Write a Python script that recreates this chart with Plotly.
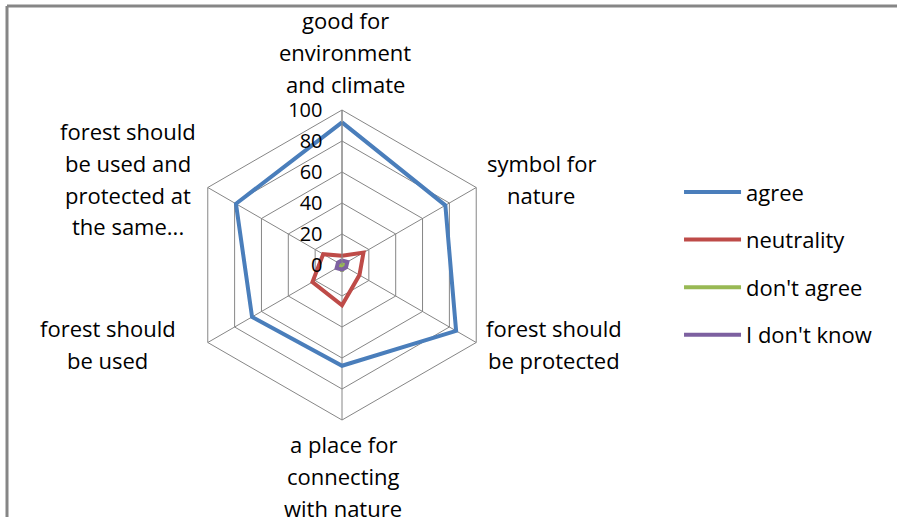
import math
import plotly.graph_objects as go

categories = [
    "good for<br>environment<br>and climate",
    "symbol for<br>nature",
    "forest should<br>be protected",
    "a place for<br>connecting<br>with nature",
    "forest should<br>be used",
    "forest should<br>be used and<br>protected at<br>the same...",
]
agree = [92, 77, 85, 65, 67, 79]
neutrality = [6, 16, 13, 26, 22, 14]
dont_agree = [1, 1, 1, 4, 1, 1]
dont_know = [3, 4, 3, 3, 4, 3]
radial_ticks = [0, 20, 40, 60, 80, 100]

series = [
    ("agree", agree, "#4A7EBB"),
    ("neutrality", neutrality, "#BE4B48"),
    ("don't agree", dont_agree, "#98B954"),
    ("I don't know", dont_know, "#7D60A0"),
]

FONT = "Open Sans"
W, H = 897, 517
cx, cy, R = 342, 265, 155          # polar centre and outer radius in px
LINE_GAP = 32                       # px between lines of a category label

# label block offsets (px) from each outer vertex: (dx, dy of block centre)
label_offsets = [(3, -58), (65, -9), (78, 1), (1, 56), (-100, 1), (-80, -9)]

fig = go.Figure()
for i, (name, vals, color) in enumerate(series):
    fig.add_trace(go.Scatterpolar(
        r=vals + vals[:1],
        theta=categories + categories[:1],
        mode="lines",
        name=name,
        legendgroup=str(i),
        line=dict(color=color, width=4),
    ))

# category labels: centred lines placed outside each vertex
annotations = []
n = len(categories)
for k, (cat, (dx, dy)) in enumerate(zip(categories, label_offsets)):
    ang = math.radians(90 - 360 * k / n)
    vx = cx + R * math.cos(ang)
    vy = cy - R * math.sin(ang)
    lines = cat.split("<br>")
    for j, txt in enumerate(lines):
        py = vy + dy + (j - (len(lines) - 1) / 2) * LINE_GAP
        annotations.append(dict(
            text=txt, x=(vx + dx) / W, y=1 - py / H,
            xref="paper", yref="paper", xanchor="center", yanchor="middle",
            showarrow=False, font=dict(family=FONT, size=22, color="#000000"),
        ))

fig.update_layout(
    width=W, height=H,
    margin=dict(l=0, r=0, t=0, b=0),
    paper_bgcolor="white",
    plot_bgcolor="white",
    font=dict(family=FONT, size=22, color="#000000"),
    annotations=annotations,
    polar=dict(
        domain=dict(x=[(cx - R) / W, (cx + R) / W],
                    y=[(H - cy - R) / H, (H - cy + R) / H]),
        gridshape="linear",
        bgcolor="white",
        radialaxis=dict(
            range=[0, 100], tickvals=radial_ticks,
            angle=90, side="counterclockwise",
            showline=True, linecolor="#868686", linewidth=1,
            gridcolor="#868686", gridwidth=1,
            ticks="outside", ticklen=12, tickcolor="rgba(0,0,0,0)",
            tickfont=dict(size=20, family=FONT, color="#000000"),
            tickangle=90,
        ),
        angularaxis=dict(
            rotation=90, direction="clockwise",
            showline=True, linecolor="#868686", linewidth=1,
            gridcolor="#868686", gridwidth=1,
            ticks="", showticklabels=False,
        ),
    ),
    legend=dict(
        x=0.757, y=0.669, xanchor="left", yanchor="top",
        font=dict(size=22, family=FONT),
        tracegroupgap=16,
        traceorder="grouped",
        itemwidth=57,
        bgcolor="rgba(0,0,0,0)",
    ),
    shapes=[
        dict(type="line", xref="paper", yref="paper",
             x0=7 / W, x1=1, y0=1 - 6 / H, y1=1 - 6 / H,
             line=dict(color="#868686", width=3)),
        dict(type="line", xref="paper", yref="paper",
             x0=7 / W, x1=7 / W, y0=0, y1=1 - 6 / H,
             line=dict(color="#868686", width=3)),
    ],
)

fig.write_html("out.html")
